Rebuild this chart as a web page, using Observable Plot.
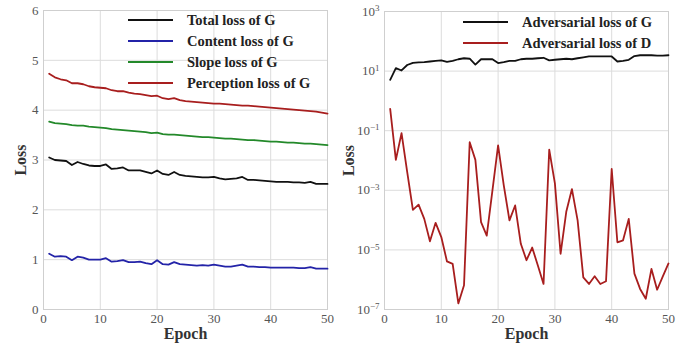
<!DOCTYPE html>
<html><head><meta charset="utf-8">
<script src="https://cdn.jsdelivr.net/npm/d3@7"></script>
<script src="https://cdn.jsdelivr.net/npm/@observablehq/plot@0.6"></script>
<style>
body{margin:0;background:#fff;}
#wrap{display:flex;width:690px;height:345px;}
.panel{position:relative;width:345px;height:345px;}
.panel svg text{font-family:"Liberation Serif",serif;}
.legend{position:absolute;font-family:"Liberation Serif",serif;font-weight:bold;font-size:14.5px;color:#222;}
.legend .row{display:flex;align-items:center;height:21px;white-space:nowrap;}
.legend .sw{width:45px;height:2px;margin-right:14px;}
</style></head><body>
<div id="wrap"><div class="panel" id="p1"></div><div class="panel" id="p2"></div></div>
<script>
const epochs = d3.range(1, 51);

const totalG = [3.05,3.00,2.99,2.98,2.90,2.96,2.92,2.89,2.88,2.88,2.91,2.82,2.83,2.85,2.79,2.79,2.79,2.76,2.73,2.79,
  2.72,2.70,2.76,2.70,2.68,2.67,2.66,2.65,2.65,2.66,2.63,2.61,2.62,2.63,2.66,2.60,2.60,2.59,2.58,2.57,
  2.56,2.56,2.56,2.55,2.55,2.54,2.56,2.52,2.52,2.52];
const contentG = [1.12,1.06,1.07,1.06,0.99,1.06,1.04,1.00,1.00,1.00,1.03,0.96,0.97,0.99,0.95,0.95,0.96,0.93,0.91,0.99,
  0.91,0.90,0.95,0.91,0.90,0.89,0.88,0.89,0.88,0.90,0.88,0.86,0.86,0.88,0.90,0.86,0.86,0.85,0.85,0.84,
  0.84,0.84,0.84,0.84,0.83,0.83,0.85,0.82,0.82,0.82];
const slopeG = [3.77,3.74,3.73,3.72,3.70,3.69,3.69,3.67,3.66,3.65,3.64,3.62,3.61,3.60,3.59,3.58,3.57,3.56,3.54,3.55,
  3.52,3.51,3.51,3.50,3.49,3.48,3.47,3.46,3.46,3.45,3.44,3.43,3.43,3.42,3.41,3.40,3.40,3.39,3.38,3.37,
  3.37,3.36,3.35,3.35,3.34,3.33,3.33,3.32,3.31,3.30];
const perceptionG = [4.73,4.66,4.62,4.60,4.54,4.54,4.52,4.48,4.46,4.45,4.44,4.40,4.38,4.38,4.35,4.33,4.32,4.30,4.28,4.29,
  4.24,4.22,4.24,4.20,4.18,4.17,4.16,4.15,4.14,4.13,4.13,4.12,4.11,4.10,4.09,4.09,4.08,4.07,4.06,4.05,
  4.04,4.03,4.02,4.01,4.00,3.99,3.98,3.97,3.95,3.93];

const advG = [5.1,12.6,10.5,16,19,19.5,20,21,22,23,20.5,22,25,27,26,16.5,25,25,25,18.6,
  20,22,22,25,26,26,27,28,23,24,25,26,25,27,29,31,31,31,31,31,
  21,22,24,32,34,34,34,33,33,34];
const advD = [5.4e-1,1.05e-2,8.3e-2,4.1e-3,2.2e-4,3.3e-4,1.1e-4,1.95e-5,8.1e-5,2.7e-5,
  4.1e-6,3.4e-6,1.6e-7,6.5e-7,4.1e-2,1.05e-2,8.5e-5,3.0e-5,9.8e-4,3.2e-2,
  1.45e-3,9.8e-5,3.1e-4,1.6e-5,4.5e-6,1.2e-5,3.0e-6,7.2e-7,2.3e-2,1.7e-3,
  7.4e-6,1.9e-4,1.1e-3,9.8e-5,1.2e-6,7.2e-7,1.3e-6,7.2e-7,8.9e-7,5.2e-3,
  1.8e-5,2.1e-5,1.1e-4,1.6e-6,4.9e-7,2.3e-7,2.3e-6,4.6e-7,1.3e-6,3.5e-6];

const xTicks = [0,10,20,30,40,50];
const yTicksLeft = [0,1,2,3,4,5,6];
const yTicksRight = [1e-7,1e-5,1e-3,1e-1,1e1,1e3];

const leftSeries = [
  {name:"Total loss of G", values: totalG, color:"#111111"},
  {name:"Content loss of G", values: contentG, color:"#2323a8"},
  {name:"Slope loss of G", values: slopeG, color:"#23892a"},
  {name:"Perception loss of G", values: perceptionG, color:"#a81e1e"}
];
const rightSeries = [
  {name:"Adversarial loss of G", values: advG, color:"#111111"},
  {name:"Adversarial loss of D", values: advD, color:"#a81e1e"}
];

const grid = "#dcdcdc";
const font = "Liberation Serif";
const common = {
  width: 345, height: 345,
  style: {fontFamily: "'Liberation Serif', serif", fontSize: "13px", color: "#555", background: "white", overflow: "visible"}
};
const tickStyle = {tickSize: 0, tickPadding: 4, label: null, fill: "#555", fontFamily: font, fontSize: 13};
const labelStyle = {fontWeight: "bold", fontSize: 16, fill: "#333", fontFamily: font, textAnchor: "middle", lineAnchor: "middle"};

function lines(series) {
  return series.map(s => Plot.lineY(s.values, {x: (d, i) => epochs[i], y: d => d, stroke: s.color, strokeWidth: 1.8}));
}

const left = Plot.plot({
  ...common,
  marginLeft: 43, marginRight: 18, marginTop: 10, marginBottom: 36,
  x: {domain: [0, 50]},
  y: {domain: [0, 6]},
  marks: [
    Plot.gridX(xTicks, {stroke: grid, strokeOpacity: 1}),
    Plot.gridY(yTicksLeft, {stroke: grid, strokeOpacity: 1}),
    Plot.frame({stroke: "#cfcfcf"}),
    Plot.axisX(xTicks, {...tickStyle, tickFormat: d => String(d)}),
    Plot.axisY(yTicksLeft, {...tickStyle, tickPadding: 5, tickFormat: d => String(d)}),
    ...lines(leftSeries),
    Plot.text(["Loss"], {text: d => d, frameAnchor: "left", dx: -23, rotate: -90, ...labelStyle}),
    Plot.text(["Epoch"], {text: d => d, frameAnchor: "bottom", dy: 24, ...labelStyle})
  ]
});

const right = Plot.plot({
  ...common,
  marginLeft: 39, marginRight: 22, marginTop: 11, marginBottom: 36,
  x: {domain: [0, 50]},
  y: {type: "log", domain: [1e-7, 1e3]},
  marks: [
    Plot.gridX(xTicks, {stroke: grid, strokeOpacity: 1}),
    Plot.gridY(yTicksRight, {stroke: grid, strokeOpacity: 1}),
    Plot.frame({stroke: "#cfcfcf"}),
    Plot.axisX(xTicks, {...tickStyle, tickFormat: d => String(d)}),
    Plot.axisY(yTicksRight, {...tickStyle, tickPadding: 5, tickFormat: d => "10^" + Math.round(Math.log10(d))}),
    ...lines(rightSeries),
    Plot.text(["Loss"], {text: d => d, frameAnchor: "left", dx: -36, rotate: -90, ...labelStyle}),
    Plot.text(["Epoch"], {text: d => d, frameAnchor: "bottom", dy: 24, ...labelStyle})
  ]
});

// superscript exponents
right.querySelectorAll("text").forEach(t => {
  const m = /^10\^(-?\d+)$/.exec(t.textContent);
  if (!m) return;
  t.textContent = "10";
  const ts = document.createElementNS("http://www.w3.org/2000/svg", "tspan");
  ts.setAttribute("dy", "-0.5em");
  ts.setAttribute("font-size", "9px");
  ts.textContent = m[1].replace("-", "\u2212");
  t.appendChild(ts);
});

function legend(series, lx, ly) {
  const div = document.createElement("div");
  div.className = "legend";
  div.style.left = lx + "px";
  div.style.top = ly + "px";
  series.forEach(s => {
    const row = document.createElement("div");
    row.className = "row";
    const sw = document.createElement("span");
    sw.className = "sw";
    sw.style.background = s.color;
    const tx = document.createElement("span");
    tx.textContent = s.name;
    row.appendChild(sw); row.appendChild(tx);
    div.appendChild(row);
  });
  return div;
}

const p1 = document.getElementById("p1");
const p2 = document.getElementById("p2");
p1.appendChild(left);
p1.appendChild(legend(leftSeries, 128, 9.5));
p2.appendChild(right);
p2.appendChild(legend(rightSeries, 118, 11.5));
</script>
</body></html>
